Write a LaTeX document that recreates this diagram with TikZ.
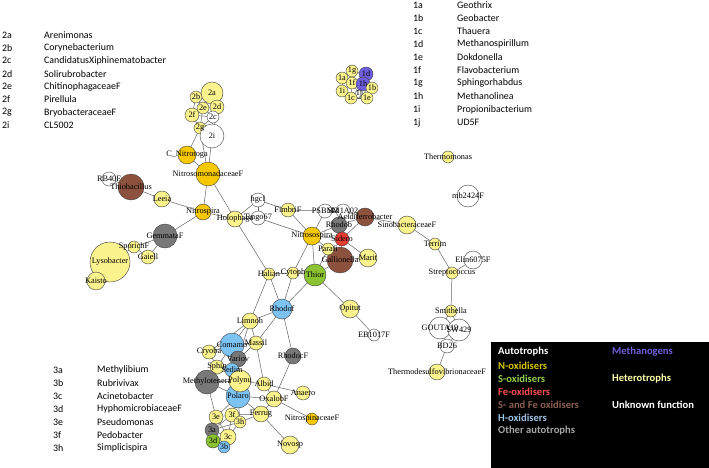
\documentclass[tikz,border=0pt]{standalone}
\usepackage{fontspec}
\setmainfont{Liberation Serif}
\newfontfamily\carl{Carlito}
\pgfdeclarelayer{background}
\pgfdeclarelayer{fg}
\pgfsetlayers{background,main,fg}
\definecolor{het}{RGB}{250,242,140}
\definecolor{nox}{RGB}{245,200,0}
\definecolor{brn}{RGB}{140,82,62}
\definecolor{gry}{RGB}{120,120,120}
\definecolor{blu}{RGB}{125,195,242}
\definecolor{grn}{RGB}{140,195,50}
\definecolor{red1}{RGB}{230,60,50}
\definecolor{meth}{RGB}{110,95,225}
\definecolor{lgN}{RGB}{214,196,0}
\definecolor{lgS}{RGB}{146,208,80}
\definecolor{lgFe}{RGB}{255,80,80}
\definecolor{lgSFe}{RGB}{140,95,80}
\definecolor{lgH}{RGB}{157,195,230}
\definecolor{lgO}{RGB}{166,166,166}
\definecolor{lgM}{RGB}{112,96,224}
\definecolor{lgHet}{RGB}{255,255,170}
\tikzset{
  vtx/.style={circle, draw=black!75, line width=0.4pt, inner sep=0pt, outer sep=0pt},
  lbl/.style={inner sep=0pt, font=\fontsize{8.3}{9}\selectfont, text=black},
  edge/.style={draw=black!60, line width=0.5pt},
  lst/.style={anchor=west, inner sep=0pt, font=\carl\fontsize{9.9}{11}\selectfont},
  lgd/.style={anchor=west, inner sep=0pt, font=\carl\bfseries\fontsize{10.6}{11}\selectfont}
}
\newcommand\V[6]{%
  \node[vtx, fill=#5, minimum size=#4*2pt] (#1) at (#2,#3) {};
  \begin{pgfonlayer}{fg}\node[lbl] at (#2,#3) {#6};\end{pgfonlayer}}
\begin{document}
\begin{tikzpicture}[x=1pt,y=-1pt]
\useasboundingbox (0,0) rectangle (709,468);
\begin{pgfonlayer}{background}
\fill[white] (0,0) rectangle (709,468);
\end{pgfonlayer}
% cluster 2
\V{n2a}{212}{93}{11}{het}{2a}
\V{n2b}{196}{97}{6}{het}{2b}
\V{n2e}{203}{108}{6}{het}{2e}
\V{n2d}{217}{107}{7}{het}{2d}
\V{n2f}{192}{115}{7}{het}{2f}
\V{n2c}{213}{117}{6}{white}{2c}
\V{n2g}{200}{128}{6}{het}{2g}
\V{n2i}{212}{136}{12}{white}{2i}
% cluster 1
\V{n1g}{352}{71}{6}{het}{1g}
\V{n1a}{342}{78}{6}{het}{1a}
\V{n1d}{366}{74}{7}{meth}{1d}
\V{n1f}{352}{83}{6}{het}{1f}
\V{n1h}{363}{84}{7}{meth}{1h}
\V{n1b}{372}{88}{6}{het}{1b}
\V{n1i}{342}{91}{6}{het}{1i}
\V{n1j}{359}{94}{4}{white}{1j}
\V{n1c}{351}{98}{6}{het}{1c}
\V{n1e}{367}{98}{6}{het}{1e}
% main network
\V{cnit}{187}{155}{9}{nox}{C\_Nitrotoga}
\V{nmon}{208}{174}{12}{nox}{NitrosomonadaceaeF}
\V{rb40}{109}{179}{7}{white}{RB40F}
\V{thio}{131}{187}{13}{brn}{Thiobacillus}
\V{leeia}{162}{199}{8}{het}{Leeia}
\V{nspira}{203}{212}{8}{nox}{Nitrospira}
\V{gemm}{165}{236}{12}{gry}{GemmataF}
\V{lyso}{110}{262}{20}{het}{Lysobacter}
\V{spor}{134}{247}{6}{het}{SporichF}
\V{gaiell}{148}{257}{7}{het}{Gaiell}
\V{kaisto}{96}{281}{9}{het}{Kaisto}
\V{holo}{235}{219}{8}{het}{Holophaga}
\V{hgci}{258}{200}{7}{white}{hgcI}
\V{tingo}{258}{218}{7}{white}{Tingo67}
\V{fimb}{288}{210}{7}{het}{FimbriF}
\V{nsosp}{312}{236}{9}{nox}{Nitrosospira}
\V{psb}{325}{211}{7}{white}{PSBM3}
\V{sm1}{343}{211}{7}{white}{SM1A02}
\V{rhodob}{339}{225}{8}{gry}{Rhodob}
\V{acid}{365}{217}{9}{brn}{Acidiferrobacter}
\V{gall}{340}{260}{13}{brn}{Gallionella}
\V{sidero}{342}{239}{7}{red1}{Sidero}
\V{parafi}{328}{249}{6}{het}{Parafi}
\V{marit}{368}{258}{9}{het}{Marit}
\V{sino}{407}{225}{9}{het}{SinobacteraceaeF}
\V{thermo}{448}{157}{6}{het}{Thermomonas}
\V{mb}{468}{196}{11}{white}{mb2424F}
\V{terrim}{435}{244}{6}{het}{Terrim}
\V{elin}{473}{260}{9}{white}{Elin6075F}
\V{strep}{452}{273}{6}{het}{Streptococcus}
\V{smith}{451}{311}{6}{het}{Smithella}
\V{gouta}{440}{328}{11}{white}{GOUTA19}
\V{sw}{459}{330}{11}{white}{SW429}
\V{bd}{447}{346}{7}{white}{BD26}
\V{thdes}{437}{372}{8}{het}{ThermodesulfovibrionaceaeF}
\V{halian}{269}{274}{6}{het}{Halian}
\V{cyto}{293}{273}{6}{het}{Cytoph}
\V{thior}{315}{275}{11}{grn}{Thior}
\V{rhodof}{282}{309}{10}{blu}{Rhodof}
\V{opitut}{350}{309}{9}{het}{Opitut}
\V{eb}{374}{335}{6}{white}{EB1017F}
\V{limnoh}{250}{321}{8}{het}{Limnoh}
\V{comamo}{232}{345}{12}{blu}{Comamo}
\V{massil}{256}{343}{7}{het}{Massil}
\V{cryoba}{209}{352}{7}{het}{Cryoba}
\V{variov}{238}{359}{8}{gry}{Variov}
\V{sphin}{217}{367}{7}{het}{Sphin}
\V{sedim}{232}{370}{7}{blu}{Sedim}
\V{mtene}{207}{382}{12}{gry}{Methylotenera}
\V{polaro}{238}{396}{12}{blu}{Polaro}
\V{polyn}{240}{381}{11}{het}{Polynu}
\V{albid}{264}{384}{7}{het}{Albid}
\V{rhodoc}{293}{356}{8}{gry}{RhodocF}
\V{oxalob}{274}{399}{8}{het}{OxalobF}
\V{anaero}{303}{393}{7}{het}{Anaero}
\V{nspin}{312}{419}{6}{nox}{NitrospinaceaeF}
\V{ferrug}{261}{414}{8}{het}{Ferrug}
\V{novosp}{290}{445}{9}{het}{Novosp}
\V{n3e}{216}{417}{7}{het}{3e}
\V{n3f}{232}{415}{7}{het}{3f}
\V{n3h}{240}{422}{6}{het}{3h}
\V{n3a}{212}{430}{7}{gry}{3a}
\V{n3c}{228}{437}{8}{het}{3c}
\V{n3d}{213}{441}{7}{grn}{3d}
\V{n3b}{224}{447}{6}{blu}{3b}
\begin{pgfonlayer}{background}
\foreach \a/\b in {n2a/n2b,n2a/n2e,n2a/n2d,n2b/n2e,n2b/n2f,n2e/n2d,n2e/n2f,n2e/n2c,n2e/n2g,n2d/n2c,n2f/n2g,n2f/n2c,n2c/n2g,n2g/n2i,n2c/n2i,n2d/n2i,n2g/cnit,n2g/nmon,n2i/nmon,cnit/nmon,
 n1g/n1a,n1g/n1f,n1g/n1d,n1a/n1f,n1a/n1i,n1f/n1h,n1f/n1i,n1f/n1c,n1f/n1j,n1d/n1h,n1h/n1b,n1h/n1j,n1h/n1e,n1b/n1e,n1i/n1c,n1c/n1j,n1j/n1e,n1c/n1e,
 rb40/thio,thio/leeia,leeia/nspira,nmon/nspira,nmon/holo,nspira/holo,nspira/gemm,gemm/spor,gemm/gaiell,spor/gaiell,spor/lyso,lyso/kaisto,
 holo/hgci,holo/tingo,hgci/tingo,hgci/fimb,tingo/nsosp,holo/halian,fimb/nsosp,fimb/psb,psb/sm1,nsosp/psb,nsosp/rhodob,nsosp/sidero,nsosp/parafi,nsosp/cyto,nsosp/thior,
 sm1/acid,rhodob/acid,acid/sino,acid/sidero,rhodob/sidero,sidero/gall,sidero/marit,gall/marit,parafi/gall,thior/parafi,thior/gall,
 halian/cyto,cyto/thior,halian/rhodof,cyto/rhodof,thior/rhodof,thior/opitut,opitut/eb,halian/limnoh,rhodof/limnoh,rhodof/rhodoc,rhodof/massil,
 sino/terrim,terrim/strep,strep/elin,strep/smith,smith/gouta,smith/sw,gouta/sw,gouta/bd,sw/bd,bd/thdes,
 limnoh/comamo,limnoh/massil,limnoh/cryoba,limnoh/variov,massil/comamo,massil/variov,massil/albid,comamo/cryoba,comamo/variov,comamo/sphin,comamo/sedim,cryoba/sphin,variov/sedim,variov/polyn,sphin/sedim,sphin/mtene,sedim/polyn,mtene/polyn,mtene/polaro,polyn/albid,polyn/polaro,albid/oxalob,albid/anaero,rhodoc/oxalob,oxalob/polaro,oxalob/ferrug,oxalob/nspin,ferrug/polaro,ferrug/novosp,ferrug/n3f,ferrug/n3h,polaro/n3e,polaro/n3f,polaro/n3h,mtene/n3e,
 n3e/n3f,n3e/n3a,n3e/n3c,n3f/n3h,n3f/n3c,n3f/n3a,n3h/n3c,n3a/n3c,n3a/n3d,n3d/n3b,n3c/n3b,n3d/n3c,n3h/n3a}
  \draw[edge] (\a) -- (\b);
\end{pgfonlayer}
% lists
\foreach \k/\t [count=\i from 0] in {2a/Arenimonas,2b/Corynebacterium,2c/CandidatusXiphinematobacter,2d/Solirubrobacter,2e/ChitinophagaceaeF,2f/Pirellula,2g/BryobacteraceaeF,2i/CL5002}{
  \node[lst] (l2k\i) at (2,35+12.9*\i) {\k};
  \node[lst] (l2t\i) at (44,35+12.9*\i) {\t};
}
\foreach \k/\t [count=\i from 0] in {1a/Geothrix,1b/Geobacter,1c/Thauera,1d/Methanospirillum,1e/Dokdonella,1f/Flavobacterium,1g/Sphingorhabdus,1h/Methanolinea,1i/Propionibacterium,1j/UD5F}{
  \node[lst] (l1k\i) at (413,5+13.05*\i) {\k};
  \node[lst] (l1t\i) at (457,5+13.05*\i) {\t};
}
\foreach \k/\t [count=\i from 0] in {3a/Methylibium,3b/Rubrivivax,3c/Acinetobacter,3d/HyphomicrobiaceaeF,3e/Pseudomonas,3f/Pedobacter,3h/Simplicispira}{
  \node[lst] (l3k\i) at (53,370+13*\i) {\k};
  \node[lst] (l3t\i) at (97,370+13*\i) {\t};
}
% legend
\fill[black] (491,342) rectangle (709,468);
\node[lgd, text=white] (la) at (498,352) {Autotrophs};
\node[lgd, text=lgN] (lb) at (498,365.5) {N-oxidisers};
\node[lgd, text=lgS] (lc) at (498,378.5) {S-oxidisers};
\node[lgd, text=lgFe] (ld) at (498,391.5) {Fe-oxidisers};
\node[lgd, text=lgSFe] (le) at (498,404.5) {S- and Fe oxidisers};
\node[lgd, text=lgH] (lf) at (498,417.5) {H-oxidisers};
\node[lgd, text=lgO] (lg) at (498,430.5) {Other autotrophs};
\node[lgd, text=lgM] (lh) at (612,352) {Methanogens};
\node[lgd, text=lgHet] (li) at (612,378.5) {Heterotrophs};
\node[lgd, text=white] (lj) at (612,404.5) {Unknown function};
\end{tikzpicture}
\end{document}
